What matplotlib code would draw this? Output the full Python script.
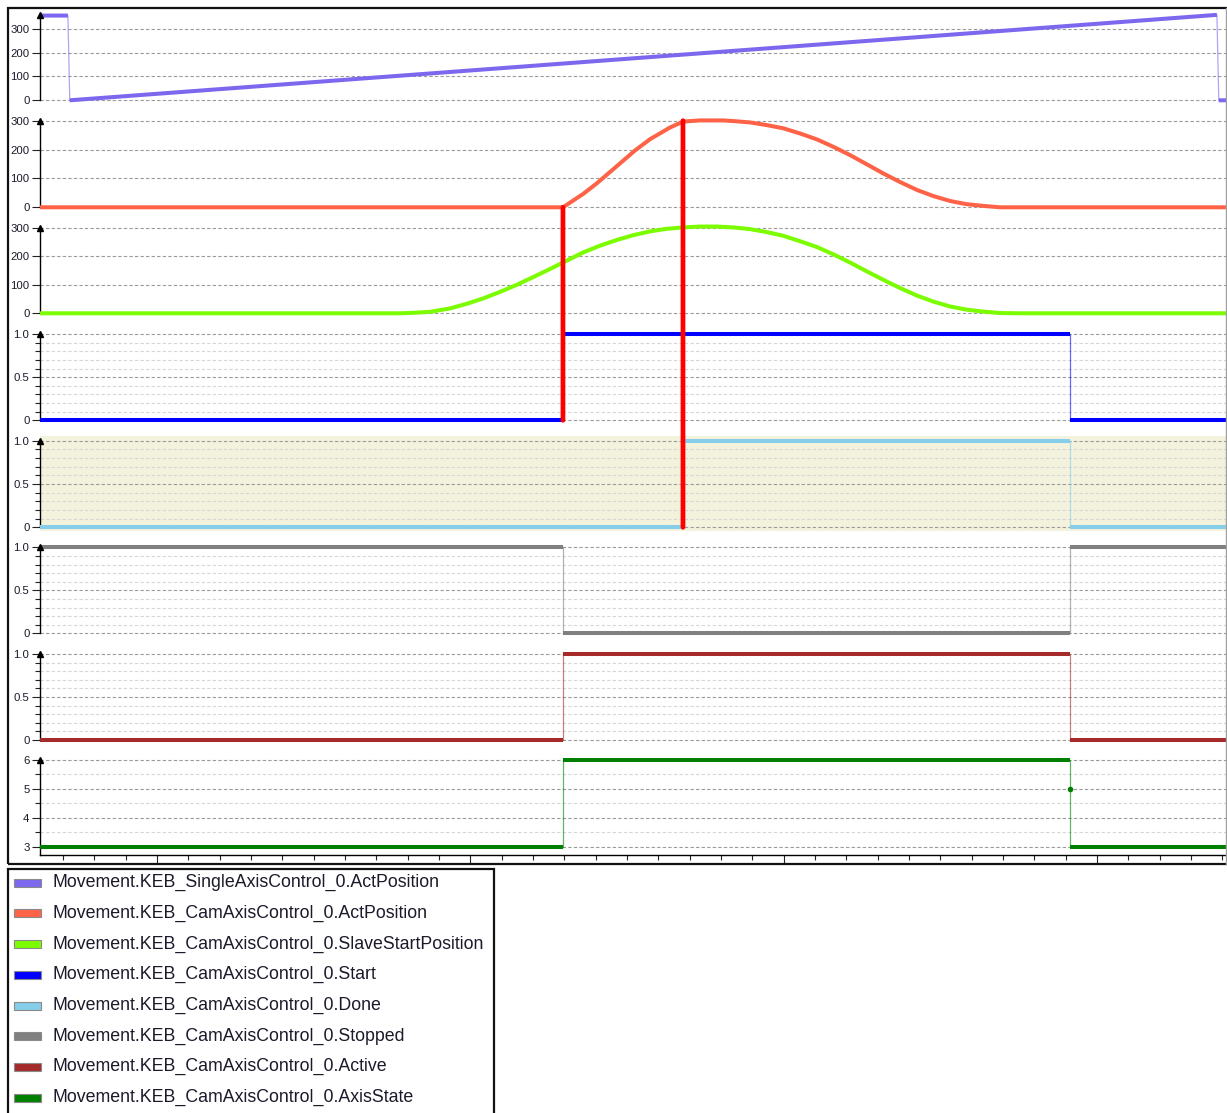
import matplotlib
matplotlib.use("Agg")
import matplotlib.pyplot as plt
from matplotlib.patches import Rectangle, ConnectionPatch
from matplotlib.lines import Line2D
from matplotlib.ticker import FixedLocator, FixedFormatter, MultipleLocator, NullFormatter
import matplotlib.transforms as mtrans
import numpy as np

W, H, DPI = 1227, 1113, 100
FONT = ["Liberation Sans", "DejaVu Sans"]

# ------------------------------------------------------------------ data
series_labels = [
    "Movement.KEB_SingleAxisControl_0.ActPosition",
    "Movement.KEB_CamAxisControl_0.ActPosition",
    "Movement.KEB_CamAxisControl_0.SlaveStartPosition",
    "Movement.KEB_CamAxisControl_0.Start",
    "Movement.KEB_CamAxisControl_0.Done",
    "Movement.KEB_CamAxisControl_0.Stopped",
    "Movement.KEB_CamAxisControl_0.Active",
    "Movement.KEB_CamAxisControl_0.AxisState",
]
series_colors = ["#7B68EE", "#FF6347", "#7CFC00", "#0000FF",
                 "#87CEEB", "#808080", "#A52A2A", "#008000"]

# time axis (ms): visible window
t_window = [62.7, 441.2]

single_act_t = [62.7, 71.6, 72.2, 438.3, 438.9, 441.2]
single_act_v = [355, 355, 0, 358, 0, 0]

cam_act_t = [62.7, 229.6, 236.0, 240.4, 247.8, 252.6, 257.4, 263.7, 267.9, 273.3, 280.7,
             284.9, 289.3, 294.5, 299.8, 305.2, 310.7, 316.0, 321.2, 326.4, 331.7,
             337.1, 342.6, 347.8, 353.1, 358.3, 363.6, 369.1, 441.2]
cam_act_v = [0, 0, 46, 83, 152, 197, 236, 276, 297, 301, 301,
             298, 294, 285, 274, 256, 235, 209, 181, 150, 118,
             88, 60, 39, 22, 11, 5, 0, 0]

slave_start_t = [62.7, 177.6, 182.4, 187.1, 193.5, 198.8, 204.1, 209.5, 214.9, 220.1,
                 225.4, 230.7, 236.0, 241.4, 246.8, 252.1, 257.4, 262.6, 267.9, 273.3,
                 278.7, 284.0, 289.3, 294.5, 299.8, 305.2, 310.7, 316.0, 321.2, 326.4,
                 331.7, 337.1, 342.6, 347.8, 353.1, 358.3, 363.6, 369.1, 375.5, 441.2]
slave_start_v = [0, 0, 2, 5, 17, 33, 52, 75, 100, 127,
                 155, 184, 213, 237, 257, 274, 287, 296, 301, 304,
                 304, 301, 295, 285, 272, 253, 232, 206, 178, 148,
                 118, 89, 62, 41, 24, 13, 6, 1, 0, 0]

start_t = [62.7, 229.6, 229.6, 391.4, 391.4, 441.2]
start_v = [0, 0, 1, 1, 0, 0]

done_t = [62.7, 267.9, 267.9, 391.4, 391.4, 441.2]
done_v = [0, 0, 1, 1, 0, 0]

stopped_t = [62.7, 229.6, 229.6, 391.4, 391.4, 441.2]
stopped_v = [1, 1, 0, 0, 1, 1]

active_t = [62.7, 229.6, 229.6, 391.4, 391.4, 441.2]
active_v = [0, 0, 1, 1, 0, 0]

axis_state_t = [62.7, 229.6, 229.6, 391.4, 391.4, 391.4, 441.2]
axis_state_v = [3, 3, 6, 6, 5, 3, 3]

# y tick values / labels
pos_ticks = [0, 100, 200, 300]
pos_labels = ["0", "100", "200", "300"]
bool_ticks = [0, 0.5, 1.0]
bool_labels = ["0", "0.5", "1.0"]
bool_minor = [0.1, 0.2, 0.3, 0.4, 0.6, 0.7, 0.8, 0.9]
state_ticks = [3, 4, 5, 6]
state_labels = ["3", "4", "5", "6"]
state_minor = [3.5, 4.5, 5.5]

# cursors: time, (panel, value) top, (panel, value) bottom
cursor_t = [229.6, 267.9]
cursor_top = [(1, 0), (1, 300)]
cursor_bottom = [(3, 0), (4, 0)]

# ------------------------------------------------------------------ layout
fig = plt.figure(figsize=(W / DPI, H / DPI), dpi=DPI)
fig.patch.set_facecolor("white")

# pixel geometry of each panel: top, bottom, calibration (v_hi, px_hi, v_lo, px_lo)
panels = [
    dict(top=10, bottom=112, cal=(300, 28.7, 0, 100.3)),
    dict(top=112, bottom=219, cal=(300, 120.7, 0, 207.3)),
    dict(top=219, bottom=325, cal=(300, 227.7, 0, 313.3)),
    dict(top=325, bottom=431, cal=(1, 334.0, 0, 420.3)),
    dict(top=436, bottom=531, cal=(1, 440.7, 0, 527.3)),
    dict(top=536, bottom=642, cal=(1, 547.3, 0, 633.3)),
    dict(top=642, bottom=750, cal=(1, 654.0, 0, 740.0)),
    dict(top=750, bottom=855, cal=(6, 760.0, 3, 846.7)),
]
LEFT, RIGHT = 40, 1226

traces = [
    (single_act_t, single_act_v, pos_ticks, pos_labels, None),
    (cam_act_t, cam_act_v, pos_ticks, pos_labels, None),
    (slave_start_t, slave_start_v, pos_ticks, pos_labels, None),
    (start_t, start_v, bool_ticks, bool_labels, bool_minor),
    (done_t, done_v, bool_ticks, bool_labels, bool_minor),
    (stopped_t, stopped_v, bool_ticks, bool_labels, bool_minor),
    (active_t, active_v, bool_ticks, bool_labels, bool_minor),
    (axis_state_t, axis_state_v, state_ticks, state_labels, state_minor),
]


def draw_trace(ax, t, v, color):
    t = np.asarray(t, float)
    v = np.asarray(v, float)
    ax.plot(t, v, color=color, lw=0.9, alpha=0.6, zorder=3)
    dt = np.diff(t)
    xs, ys = [], []
    for i, d in enumerate(dt):
        if d >= 1.0:
            xs += [t[i], t[i + 1]]
            ys += [v[i], v[i + 1]]
        else:
            xs.append(np.nan)
            ys.append(np.nan)
    ax.plot(xs, ys, color=color, lw=2.9, zorder=4, solid_capstyle="butt",
            solid_joinstyle="round")
    # isolated samples
    for i in range(len(t)):
        left_jump = i == 0 or dt[i - 1] < 1.0
        right_jump = i == len(t) - 1 or dt[i] < 1.0
        if left_jump and right_jump:
            ax.plot([t[i]], [v[i]], marker="o", ms=3, color=color, zorder=4)


axes = []
for k, (p, tr) in enumerate(zip(panels, traces)):
    top, bot = p["top"], p["bottom"]
    v_hi, p_hi, v_lo, p_lo = p["cal"]
    s = (p_lo - p_hi) / (v_hi - v_lo)
    ylo = v_lo - (bot - p_lo) / s
    yhi = v_hi + (p_hi - top) / s
    ax = fig.add_axes([LEFT / W, 1 - bot / H, (RIGHT - LEFT) / W, (bot - top) / H])
    axes.append(ax)
    t, v, ticks, labels, minor = tr
    ax.set_xlim(t_window)
    ax.set_ylim(ylo, yhi)
    ax.set_facecolor("#F3F2DC" if k == 4 else "none")
    for sp in ax.spines.values():
        sp.set_visible(False)
    spine_top = max(max(v), ticks[-1]) if k == 0 else ticks[-1]
    spine_bot = ylo if k == 7 else ticks[0]
    ax.spines["left"].set_visible(True)
    ax.spines["left"].set_bounds(spine_bot, spine_top)
    ax.spines["left"].set_linewidth(1.0)
    ax.spines["left"].set_color("black")
    tr_blend = mtrans.blended_transform_factory(ax.transAxes, ax.transData)
    ax.plot([0], [spine_top], marker="^", ms=4.5, color="black",
            transform=tr_blend, clip_on=False, zorder=6)

    ax.yaxis.set_major_locator(FixedLocator(ticks))
    ax.yaxis.set_major_formatter(FixedFormatter(labels))
    if minor:
        ax.yaxis.set_minor_locator(FixedLocator(minor))
        ax.yaxis.grid(True, which="minor", color="#d6d6d6", ls=(0, (3, 2)), lw=0.8)
    ax.yaxis.grid(True, which="major", color="#9a9a9a", ls=(0, (3, 2)), lw=0.8)
    ax.set_axisbelow(True)
    ax.tick_params(axis="y", which="major", length=5.8, width=0.8, color="#222222",
                   pad=1.8, labelsize=8.2, labelcolor="#1a1a2a")
    ax.tick_params(axis="y", which="minor", length=3.6, width=0.8, color="#222222")
    for lab in ax.get_yticklabels():
        lab.set_family(FONT)

    if k == 7:
        ax.spines["bottom"].set_visible(True)
        ax.spines["bottom"].set_linewidth(1.0)
        ax.xaxis.set_major_locator(MultipleLocator(100))
        ax.xaxis.set_minor_locator(MultipleLocator(10))
        ax.xaxis.set_major_formatter(NullFormatter())
        ax.tick_params(axis="x", which="major", length=5.8, width=0.8, color="#222222")
        ax.tick_params(axis="x", which="minor", length=3.6, width=0.8, color="#222222")
    else:
        ax.tick_params(axis="x", which="both", bottom=False, labelbottom=False)

    draw_trace(ax, t, v, series_colors[k])

# cursors
for ct, (pa, va), (pb, vb) in zip(cursor_t, cursor_top, cursor_bottom):
    con = ConnectionPatch(xyA=(ct, va), coordsA=axes[pa].transData,
                          xyB=(ct, vb), coordsB=axes[pb].transData,
                          color="#FF0000", lw=3.4, zorder=10)
    fig.add_artist(con)

# outer frame of the trace area
fig.add_artist(Rectangle((8 / W, 1 - 864 / H), (1250 - 8) / W, (864 - 8) / H,
                         transform=fig.transFigure, fill=False, lw=1.6,
                         ec="#111111"))
fig.add_artist(Line2D([RIGHT / W, RIGHT / W], [1 - 864 / H, 1 - 8 / H],
                      transform=fig.transFigure, color="#a0a0a0", lw=1))

# legend box
fig.add_artist(Rectangle((8 / W, 1 - 1120 / H), (494 - 8) / W, (1120 - 869) / H,
                         transform=fig.transFigure, fill=False, lw=1.6,
                         ec="#111111"))
for i, (lab, col) in enumerate(zip(series_labels, series_colors)):
    yc = 882.7 + i * 30.7
    fig.add_artist(Rectangle((14 / W, 1 - (yc + 4) / H), 27 / W, 8 / H,
                             transform=fig.transFigure, fc=col, ec="#8a8a8a", lw=0.8))
    fig.text(52 / W, 1 - yc / H, lab, ha="left", va="center", fontsize=12.8,
             family=FONT, color="#1a1a2a")

fig.savefig("out.png", dpi=DPI)
